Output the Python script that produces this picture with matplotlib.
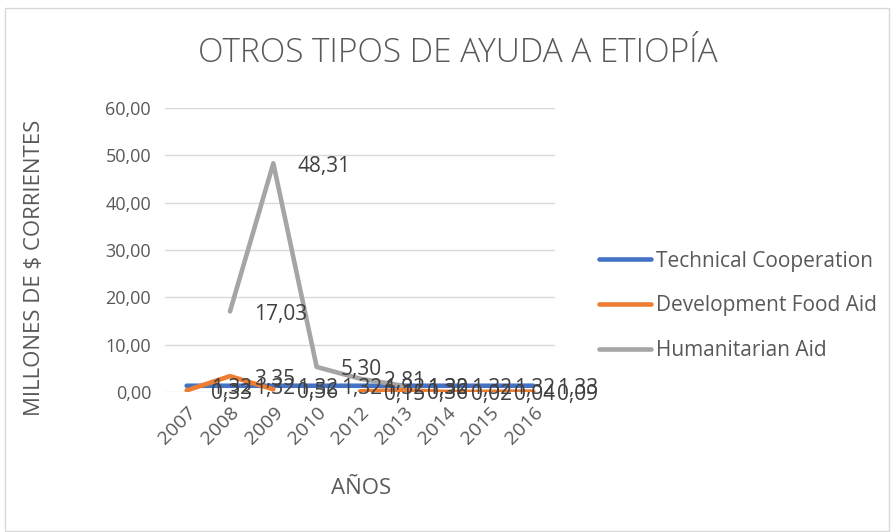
import matplotlib.pyplot as plt
from matplotlib.patches import Rectangle
import numpy as np

years = ['2007', '2008', '2009', '2010', '2012', '2013', '2014', '2015', '2016']
technical = [1.32, 1.32, 1.32, 1.32, 1.32, 1.32, 1.32, 1.32, 1.33]
food_aid = [0.33, 3.35, 0.56, np.nan, 0.15, 0.36, 0.02, 0.04, 0.09]
humanitarian = [np.nan, 17.03, 48.31, 5.30, 2.81, 1.30, np.nan, np.nan, np.nan]

series = [('Technical Cooperation', technical, '#4472C4'),
          ('Development Food Aid', food_aid, '#ED7D31'),
          ('Humanitarian Aid', humanitarian, '#A5A5A5')]

plt.rcParams['font.family'] = ['Open Sans', 'DejaVu Sans']
txt = '#595959'

fig = plt.figure(figsize=(8.93, 5.32), dpi=100)
fig.patches.append(Rectangle((5/893, 0.002), 884/893, 1 - 8/532 - 0.002,
                             transform=fig.transFigure, fill=False,
                             edgecolor='#D9D9D9', linewidth=1))
ax = fig.add_axes([165/893, 1 - 392/532, 390/893, 284/532])

x = np.arange(len(years))
for name, vals, col in series:
    ax.plot(x, vals, color=col, linewidth=3.3, label=name, solid_capstyle='round')
for name, vals, col in series:
    for xi, v in zip(x, vals):
        if np.isnan(v):
            continue
        ax.annotate(f'{v:.2f}'.replace('.', ','), (xi, v), xytext=(24, -3),
                    textcoords='offset pixels', ha='left', va='center',
                    fontsize=15, color='#404040')

ax.set_xlim(-0.5, len(years) - 0.5)
ax.set_ylim(0, 60)
ax.set_yticks(np.arange(0, 61, 10))
ax.set_yticklabels([f'{t:.2f}'.replace('.', ',') for t in np.arange(0, 61, 10)])
ax.set_xticks(x)
ax.set_xticklabels(years, rotation=45, ha='right', rotation_mode='anchor')
ax.tick_params(axis='both', length=0, colors=txt, labelsize=13)
ax.tick_params(axis='y', pad=10)
ax.tick_params(axis='x', labelsize=14, pad=8)
ax.grid(axis='y', color='#D9D9D9', linewidth=1)
ax.set_axisbelow(True)
for s in ax.spines.values():
    s.set_visible(False)

fig.text(458/893, 1 - 53/532, 'OTROS TIPOS DE AYUDA A ETIOPÍA', ha='center',
         va='center', fontsize=24, color=txt, fontweight='light')
fig.text(35/893, 1 - 268/532, 'MILLONES DE $ CORRIENTES', rotation=90,
         ha='center', va='center', fontsize=16, color=txt)
fig.text(361/893, 1 - 488/532, 'AÑOS', ha='center', va='center',
         fontsize=16, color=txt)

leg = ax.legend(loc='center left', bbox_to_anchor=(591/893, 1 - 306/532),
                bbox_transform=fig.transFigure, frameon=False, fontsize=15,
                handlelength=2.5, handletextpad=0.2, labelspacing=1.15,
                borderaxespad=0)
for t in leg.get_texts():
    t.set_color(txt)

fig.savefig('out.png', dpi=100)
